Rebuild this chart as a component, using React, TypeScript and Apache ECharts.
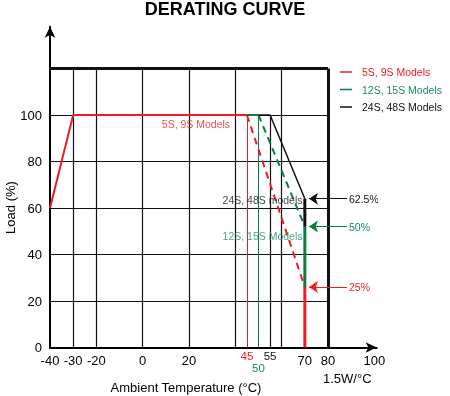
import React, { useEffect, useRef } from 'react';
import * as echarts from 'echarts';

const RED = '#ee1c25';
const GREEN = '#0b7d3e';
const GREEN_TEXT = '#1e8a64';
const BLACK = '#111111';
const FONT = '"Liberation Sans", Arial, sans-serif';

const title = 'DERATING CURVE';
const seriesNames = ['5S, 9S Models', '12S, 15S Models', '24S, 48S Models'];

// curve segments [temperature °C, load %]
const redSolid = [[-40, 60], [-30, 100], [45, 100]];
const redDashed = [[45, 100], [70, 26]];
const redDrop = [[70, 26], [70, 0]];
const greenSolid = [[45, 100], [50, 100]];
const greenDashed = [[50, 100], [70, 52]];
const greenDrop = [[70, 52], [70, 26]];
const blackSolid = [[50, 100], [55, 100], [70, 64]];
const blackDrop = [[70, 64], [70, 52]];

// tick labels
const xMainLabels = [-40, -30, -20, 0, 20, 70, 80, 100];
const xUpperLabels = [45, 55];
const xLowerLabels = [50];
const yLabels = [0, 20, 40, 60, 80, 100];

// grid lines
const vGridFull = [-30, -20, 0, 20, 40, 60];
const vGridShort = [55];
const hGrid = [20, 40, 60, 80, 100];
const frameTop = 120;
const frameRight = 80;
const redMarker = 45;
const greenMarker = 50;

// annotations
const arrowLabels = ['62.5%', '50%', '25%'];
const arrowLevels = [64, 52, 26];
const arrowColors = [BLACK, GREEN, RED];
const arrowTextColors = [BLACK, GREEN_TEXT, RED];
const arrowX = [71.8, 88.2];
const curveLabels = ['5S, 9S Models', '24S, 48S models', '12S, 15S Models'];
const curveLabelPos = [[23, 96.3], [69, 63.6], [69, 48.1]];

const xMin = -40;
const xMax = 101;
const yMin = 0;
const yMax = 138;

export default function App() {
  const ref = useRef<HTMLDivElement>(null);
  useEffect(() => {
    if (!ref.current) return;
    const chart = echarts.init(ref.current, null, { renderer: 'svg' });

    const baseX = {
      type: 'value',
      min: xMin,
      max: xMax,
      position: 'bottom',
      splitLine: { show: false },
      axisTick: { show: false },
    };

    const line = (name: string, data: number[][], color: string, width: number, dashed = false, z = 4) => ({
      type: 'line',
      name,
      data,
      symbol: 'none',
      showSymbol: false,
      silent: true,
      z,
      lineStyle: { color, width, type: dashed ? [7, 5] : 'solid' },
      itemStyle: { color },
    });

    const gridData: any[] = [
      ...vGridFull.map((v) => ({ coords: [[v, 0], [v, frameTop]] })),
      ...vGridShort.map((v) => ({ coords: [[v, 0], [v, 100]] })),
      ...hGrid.map((v) => ({ coords: [[xMin, v], [frameRight, v]] })),
      { coords: [[redMarker, 0], [redMarker, 100]], lineStyle: { color: RED, width: 1 } },
      { coords: [[greenMarker, 0], [greenMarker, 100]], lineStyle: { color: GREEN, width: 1 } },
      { coords: [[xMin, frameTop], [frameRight, frameTop]], lineStyle: { color: BLACK, width: 3 } },
      { coords: [[frameRight, 0], [frameRight, frameTop]], lineStyle: { color: BLACK, width: 3 } },
    ];

    chart.setOption({
      animation: false,
      textStyle: { fontFamily: FONT },
      title: {
        text: title,
        left: 'center',
        top: 0,
        padding: 0,
        textStyle: { fontSize: 18, fontWeight: 'bold', color: '#000', fontFamily: FONT },
      },
      legend: {
        orient: 'vertical',
        left: 340,
        top: 65,
        padding: 0,
        icon: 'rect',
        itemWidth: 12,
        itemHeight: 1.5,
        itemGap: 3.5,
        selectedMode: false,
        textStyle: { fontSize: 10.5, lineHeight: 14, fontFamily: FONT, padding: [0, 0, 0, 5] },
        data: [
          { name: seriesNames[0], itemStyle: { color: RED }, textStyle: { color: RED } },
          { name: seriesNames[1], itemStyle: { color: GREEN }, textStyle: { color: GREEN_TEXT } },
          { name: seriesNames[2], itemStyle: { color: BLACK }, textStyle: { color: BLACK } },
        ],
      },
      grid: { left: 50, right: 73.35, top: 26.65, bottom: 48.5, containLabel: false },
      xAxis: [
        {
          ...baseX,
          axisLine: {
            show: true,
            symbol: ['none', 'arrow'],
            symbolSize: [8, 11],
            lineStyle: { color: '#000', width: 2 },
          },
          axisLabel: {
            customValues: xMainLabels,
            margin: 6,
            fontSize: 13,
            color: '#000',
            fontFamily: FONT,
          },
        },
        {
          ...baseX,
          axisLine: { show: false },
          axisLabel: {
            customValues: xUpperLabels,
            margin: 2,
            fontSize: 11.5,
            fontFamily: FONT,
            formatter: (v: number) => (v === 45 ? '{r|' + v + '}' : '{k|' + v + '}'),
            rich: {
              r: { color: RED, fontSize: 11.5, fontFamily: FONT },
              k: { color: BLACK, fontSize: 11.5, fontFamily: FONT },
            },
          },
        },
        {
          ...baseX,
          axisLine: { show: false },
          axisLabel: {
            customValues: xLowerLabels,
            margin: 14,
            fontSize: 11.5,
            color: GREEN_TEXT,
            fontFamily: FONT,
          },
        },
      ],
      yAxis: {
        type: 'value',
        min: yMin,
        max: yMax,
        splitLine: { show: false },
        axisTick: { show: false },
        axisLine: {
          show: true,
          onZero: false,
          symbol: ['none', 'arrow'],
          symbolSize: [8, 11],
          lineStyle: { color: '#000', width: 2 },
        },
        axisLabel: {
          customValues: yLabels,
          margin: 8,
          fontSize: 13,
          color: '#000',
          fontFamily: FONT,
        },
      },
      series: [
        {
          type: 'lines',
          name: 'grid',
          coordinateSystem: 'cartesian2d',
          xAxisIndex: 0,
          yAxisIndex: 0,
          silent: true,
          z: 1,
          lineStyle: { color: BLACK, width: 1.2, opacity: 1, curveness: 0 },
          data: gridData,
        },
        line(seriesNames[0], redSolid, RED, 2),
        line(seriesNames[0], redDashed, RED, 2, true),
        line(seriesNames[0], redDrop, RED, 3),
        line(seriesNames[1], greenSolid, GREEN, 2),
        line(seriesNames[1], greenDashed, GREEN, 2, true),
        line(seriesNames[1], greenDrop, GREEN, 3),
        line(seriesNames[2], blackSolid, BLACK, 1.5, false, 5),
        line(seriesNames[2], blackDrop, BLACK, 3),
        {
          type: 'lines',
          name: 'arrows',
          coordinateSystem: 'cartesian2d',
          xAxisIndex: 0,
          yAxisIndex: 0,
          silent: true,
          z: 6,
          symbol: ['arrow', 'none'],
          symbolSize: 9,
          lineStyle: { width: 1.2, opacity: 1, curveness: 0 },
          data: arrowLevels.map((lv, i) => ({
            coords: [[arrowX[0], lv], [arrowX[1], lv]],
            lineStyle: { color: arrowColors[i], width: 1.2, opacity: 1 },
            label: {
              show: true,
              position: 'end',
              distance: 2,
              formatter: arrowLabels[i],
              color: arrowTextColors[i],
              fontSize: 10.5,
              fontFamily: FONT,
            },
          })),
        },
        {
          type: 'scatter',
          name: 'notes',
          symbolSize: 0,
          silent: true,
          z: 7,
          data: curveLabels.map((t, i) => ({
            value: curveLabelPos[i],
            label: {
              show: true,
              position: i === 0 ? 'inside' : 'left',
              distance: 0,
              formatter: t,
              color: [RED, BLACK, GREEN_TEXT][i],
              fontSize: 10.5,
              fontFamily: FONT,
            },
          })),
        },
      ],
      graphic: [
        {
          type: 'text',
          x: 186,
          y: 387,
          style: {
            text: 'Ambient Temperature (°C)',
            fill: '#000',
            font: '13px ' + FONT,
            align: 'center',
            verticalAlign: 'middle',
          },
        },
        {
          type: 'text',
          x: 10,
          y: 207.5,
          rotation: Math.PI / 2,
          style: {
            text: 'Load (%)',
            fill: '#000',
            font: '13px ' + FONT,
            align: 'center',
            verticalAlign: 'middle',
          },
        },
        {
          type: 'text',
          x: 323,
          y: 378,
          style: {
            text: '1.5W/°C',
            fill: '#000',
            font: '13px ' + FONT,
            align: 'left',
            verticalAlign: 'middle',
          },
        },
      ],
    });
    return () => chart.dispose();
  }, []);
  return <div ref={ref} style={{ position: 'fixed', left: 0, top: 0, width: 450, height: 396 }} />;
}
